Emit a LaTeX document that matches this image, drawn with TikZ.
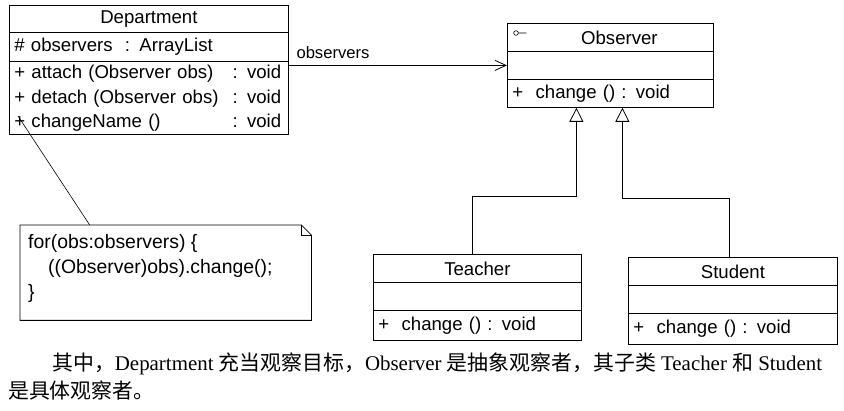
\documentclass[tikz,border=0pt]{standalone}
\usepackage{fontspec}
\usetikzlibrary{arrows.meta}
\setmainfont{Liberation Sans}
\newfontfamily\capfont{Liberation Serif}
\newfontfamily\cjk{Noto Sans CJK SC}
\newcommand{\zhtext}[1]{{\cjk #1}}
\newcommand{\navarw}{-{Straight Barb[length=11pt,width=10pt]}}
\newcommand{\genarw}{-{Triangle[open,length=14pt,width=14pt,fill=white]}}
\tikzset{
  umlfont/.style={font=\fontsize{18.6}{24.5}\selectfont},
  ttl/.style 2 args={draw, line width=.8pt, anchor=north west, inner sep=0pt,
    minimum width=#1, minimum height=#2, umlfont},
  mbr/.style 2 args={draw, line width=.8pt, anchor=north west, inner xsep=5pt,
    inner ysep=0pt, text width=#1, minimum height=#2, align=left, umlfont},
  conn/.style={line width=.8pt},
}

\begin{document}
\begin{tikzpicture}[x=1pt,y=-1pt]
\useasboundingbox (0,0) rectangle (844,411);
%Department
\node[ttl={279}{27}] (depttl) at (9,5) {Department};
\node[mbr={269}{29}] (depattr) at (9,32) {\#\ observers\ \ : ArrayList};
\node[mbr={269}{73}] (depmeth) at (9,61) {%
  \begin{tabular}{@{}l@{\hspace{14pt}}l@{}}
  + attach (Observer obs)\ & : void\\
  + detach (Observer obs) & : void\\
  + changeName () & : void
  \end{tabular}};
%Observer
\node[ttl={206}{28}] (obsttl) at (507,23) {\hspace*{18pt}Observer};
\node[mbr={196}{28}] (obsattr) at (507,51) {};
\node[mbr={196}{28}] (obsmeth) at (507,79) {+\ \ change ()\ : void};
\draw[line width=.6pt] ([xshift=9pt,yshift=-10pt]obsttl.north west) circle (2.3pt)
  ++(2.3,0) -- ++(8,0);
%Teacher
\node[ttl={208}{28}] (teachttl) at (373,254) {Teacher};
\node[mbr={198}{28}] (teachattr) at (373,282) {};
\node[mbr={198}{30}] (teachmeth) at (373,310) {+\ \ change ()\ : void};
%Student
\node[ttl={209}{28}] (studttl) at (628,257) {Student};
\node[mbr={199}{28}] (studattr) at (628,285) {};
\node[mbr={199}{31}] (studmeth) at (628,313) {+\ \ change ()\ : void};
%note
\node[anchor=north west, minimum width=291, minimum height=95, inner sep=0pt] (note) at (20,225) {};
\draw[conn] (note.north west) -- ([xshift=-10pt]note.north east) -- ([yshift=-10pt]note.north east)
  -- (note.south east) -- (note.south west) -- cycle;
\draw[line width=.6pt] ([xshift=-10pt]note.north east) |- ([yshift=-10pt]note.north east);
\node[anchor=north west, align=left, inner sep=0pt, font=\fontsize{19.4}{25}\selectfont] (notetext)
  at ([xshift=8pt,yshift=-9pt]note.north west)
  {for(obs:observers) \{\\ \hspace*{20pt}((Observer)obs).change();\\ \}};
\coordinate (deppin) at ([xshift=9pt,yshift=-55pt]depmeth.north west);
\draw[line width=.6pt] (deppin) -- ([xshift=-76pt]note.north);
%associations
\draw[conn,\navarw] (depmeth.east |- obsattr.west) -- (obsattr.west)
  node[pos=0, anchor=south west, xshift=4pt, yshift=3pt, font=\fontsize{16.6}{20}\selectfont] (navlbl) {observers};
\draw[conn,\genarw] ([xshift=-5pt]teachttl.north) -- ++(0,-58) -| ([xshift=-34pt]obsmeth.south);
\draw[conn,\genarw] ([xshift=-4pt]studttl.north) -- ++(0,-59) -| ([xshift=12pt]obsmeth.south);
%caption
\node[anchor=base west, inner sep=0pt, font=\capfont\fontsize{20.9}{28}\selectfont] (capa) at (52,371)
  {\zhtext{其中，}Department \zhtext{充当观察目标，}Observer \zhtext{是抽象观察者，其子类} Teacher \zhtext{和} Student};
\node[anchor=base west, inner sep=0pt, font=\capfont\fontsize{20.9}{28}\selectfont] (capb) at (8,399)
  {\zhtext{是具体观察者。}};
\end{tikzpicture}
\end{document}
